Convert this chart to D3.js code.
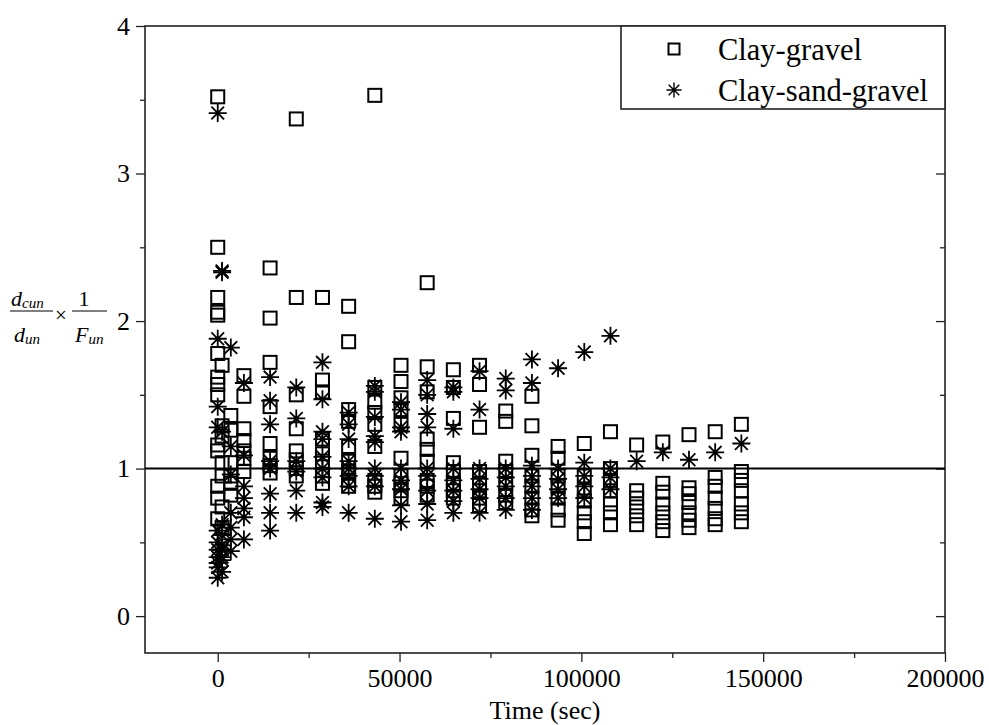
<!DOCTYPE html>
<html><head><meta charset="utf-8">
<script src="https://cdn.jsdelivr.net/npm/d3@7"></script>
<style>
body{margin:0;background:#fff;}
svg{display:block;}
text{font-family:"Liberation Serif","Times New Roman",serif;fill:#000;}
</style></head>
<body>
<svg id="chart" width="989" height="725"></svg>
<script>
// ---- data ----
const times = [0,1200,3600,7200,14400,21600,28800,36000,43200,50400,57600,64800,72000,79200,86400,93600,100800,108000,115200,122400,129600,136800,144000];
const clayGravel = [
  [3.52,2.50,2.16,2.06,2.04,1.78,1.62,1.57,1.50,1.16,1.12,0.88,0.80,0.66],
  [1.70,1.29,1.22,1.04,0.95,0.74,0.60],
  [1.36,1.26,1.04,0.95,0.90,0.82],
  [1.63,1.49,1.27,1.19,1.12,1.07,0.98],
  [2.36,2.02,1.72,1.42,1.17,1.07,1.02,0.97],
  [3.37,2.16,1.50,1.27,1.12,1.06,1.00,0.95],
  [2.16,1.60,1.52,1.20,1.10,1.05,0.95,0.90],
  [2.10,1.86,1.40,1.32,1.15,1.05,0.98,0.92,0.88],
  [3.53,1.55,1.45,1.38,1.30,1.15,0.92,0.88,0.84],
  [1.70,1.59,1.48,1.40,1.30,1.07,0.95,0.90,0.85,0.80],
  [2.26,1.69,1.52,1.20,1.13,1.05,0.92,0.88,0.82],
  [1.67,1.55,1.34,1.04,0.98,0.90,0.85,0.80],
  [1.70,1.57,1.28,0.98,0.90,0.85,0.80,0.75],
  [1.39,1.32,1.05,0.98,0.90,0.82,0.77],
  [1.49,1.29,1.09,0.95,0.88,0.80,0.72,0.68],
  [1.15,1.07,0.95,0.88,0.80,0.72,0.65],
  [1.17,0.95,0.85,0.78,0.70,0.64,0.56],
  [1.25,1.00,0.92,0.85,0.76,0.70,0.62],
  [1.16,0.85,0.80,0.74,0.68,0.62],
  [1.18,0.90,0.84,0.76,0.70,0.64,0.58],
  [1.23,0.87,0.83,0.77,0.70,0.65,0.60],
  [1.25,0.94,0.88,0.80,0.73,0.66,0.62],
  [1.30,0.98,0.92,0.85,0.76,0.70,0.64]
];
const claySandGravel = [
  [3.41,1.88,1.42,1.28,0.58,0.50,0.45,0.40,0.36,0.33,0.26],
  [2.33,2.34,1.25,0.62,0.55,0.48,0.45,0.40,0.38,0.30],
  [1.82,1.15,0.96,0.70,0.60,0.52,0.44],
  [1.58,1.09,0.88,0.80,0.73,0.67,0.52],
  [1.62,1.46,1.30,1.05,1.00,0.83,0.70,0.58],
  [1.55,1.34,1.05,0.98,0.85,0.70],
  [1.72,1.47,1.25,1.20,1.08,1.00,0.94,0.77,0.74],
  [1.38,1.30,1.20,1.05,1.00,0.95,0.88,0.70],
  [1.56,1.52,1.35,1.22,1.18,1.00,0.95,0.88,0.66],
  [1.45,1.40,1.28,1.25,1.00,0.92,0.86,0.75,0.64],
  [1.60,1.50,1.37,1.28,1.00,0.95,0.85,0.76,0.65],
  [1.55,1.52,1.27,1.00,0.92,0.85,0.78,0.70],
  [1.66,1.40,1.00,0.93,0.86,0.80,0.70],
  [1.61,1.53,1.00,0.94,0.88,0.80,0.72],
  [1.74,1.58,1.02,0.95,0.88,0.80,0.72],
  [1.68,1.00,0.93,0.86,0.80],
  [1.79,1.04,0.95,0.88,0.80],
  [1.90,1.00,0.94,0.86],
  [1.05],
  [1.11],
  [1.06],
  [1.11],
  [1.17]
];
const seriesNames = ["Clay-gravel","Clay-sand-gravel"];
const xTicks = [0,50000,100000,150000,200000];
const xMinor = [25000,75000,125000,175000];
const yTicks = [0,1,2,3,4];
const yMinor = [0.5,1.5,2.5,3.5];
const xTitle = "Time (sec)";

// ---- layout ----
const svg = d3.select("#chart");
const L=145,R=945,T=26,B=653;
const x = d3.scaleLinear().domain([-20000,200000]).range([L,R]);
const y = d3.scaleLinear().domain([-0.25,4]).range([B,T]);

const flat = (arr)=>arr.flatMap((col,i)=>col.map(v=>({t:times[i],v})));
const sq = flat(clayGravel), st = flat(claySandGravel);

// axes
const axB = svg.append("g").attr("transform",`translate(0,${B})`)
  .call(d3.axisBottom(x).tickValues(xTicks).tickFormat(d3.format("d")).tickSize(9).tickPadding(4));
svg.append("g").attr("transform",`translate(0,${B})`)
  .call(d3.axisBottom(x).tickValues(xMinor).tickFormat("").tickSize(5));
const axL = svg.append("g").attr("transform",`translate(${L},0)`)
  .call(d3.axisLeft(y).tickValues(yTicks).tickFormat(d3.format("d")).tickSize(9).tickPadding(6));
svg.append("g").attr("transform",`translate(${L},0)`)
  .call(d3.axisLeft(y).tickValues(yMinor).tickFormat("").tickSize(5));
svg.append("g").attr("transform",`translate(${R},0)`)
  .call(d3.axisLeft(y).tickValues(yTicks).tickFormat("").tickSize(9));
svg.append("g").attr("transform",`translate(${R},0)`)
  .call(d3.axisLeft(y).tickValues(yMinor).tickFormat("").tickSize(5));
svg.selectAll(".domain").remove();
svg.selectAll(".tick line").attr("stroke","#222").attr("stroke-width",1.3);
svg.selectAll(".tick text").attr("font-size",26).attr("font-family","Liberation Serif").attr("fill","#000");
axB.selectAll(".tick text").attr("dy","0.8em");

// frame
svg.append("rect").attr("x",L).attr("y",T).attr("width",R-L).attr("height",B-T)
  .attr("fill","none").attr("stroke","#222").attr("stroke-width",1.6);

// reference line y=1
svg.append("line").attr("x1",L).attr("x2",R).attr("y1",y(1)).attr("y2",y(1))
  .attr("stroke","#000").attr("stroke-width",2);

// markers
const starPath = (r)=>{
  const a=r*Math.SQRT1_2;
  return `M0,${-r}L0,${r}M${-r},0L${r},0M${-a},${-a}L${a},${a}M${-a},${a}L${a},${-a}`;
};
svg.append("g").selectAll("rect").data(sq).join("rect")
  .attr("x",d=>x(d.t)-6.5).attr("y",d=>y(d.v)-6.5).attr("width",13).attr("height",13)
  .attr("fill","none").attr("stroke","#000").attr("stroke-width",2);
svg.append("g").selectAll("path").data(st).join("path")
  .attr("transform",d=>`translate(${x(d.t)},${y(d.v)})`)
  .attr("d",starPath(9)).attr("fill","none").attr("stroke","#000").attr("stroke-width",1.8);

// legend
const lg = svg.append("g");
lg.append("rect").attr("x",621).attr("y",T).attr("width",R-621).attr("height",83)
  .attr("fill","#fff").attr("stroke","#222").attr("stroke-width",1.6);
lg.append("rect").attr("x",674-5.5).attr("y",49-5.5).attr("width",11).attr("height",11)
  .attr("fill","none").attr("stroke","#000").attr("stroke-width",2);
lg.append("path").attr("transform","translate(674,90)").attr("d",starPath(7.5))
  .attr("fill","none").attr("stroke","#000").attr("stroke-width",1.4);
lg.selectAll("text.lt").data(seriesNames).join("text").attr("class","lt")
  .attr("x",718).attr("y",(d,i)=>[60,101][i]).attr("font-size",30.5).text(d=>d);

// x title
svg.append("text").attr("x",(L+R)/2).attr("y",719).attr("text-anchor","middle")
  .attr("font-size",26).text(xTitle);

// y title: d_cun/d_un × 1/F_un
const yl = svg.append("g");
yl.append("text").attr("x",11).attr("y",306).attr("font-size",22).attr("font-style","italic")
  .text("d").append("tspan").attr("font-size",15).attr("dy",2).text("cun");
yl.append("line").attr("x1",10).attr("x2",53).attr("y1",311).attr("y2",311).attr("stroke","#000").attr("stroke-width",1.2);
yl.append("text").attr("x",14).attr("y",342).attr("font-size",22).attr("font-style","italic")
  .text("d").append("tspan").attr("font-size",15).attr("dy",2).text("un");
yl.append("text").attr("x",55).attr("y",322).attr("font-size",21).text("×");
yl.append("text").attr("x",84).attr("y",306).attr("font-size",22).attr("text-anchor","middle").text("1");
yl.append("line").attr("x1",72).attr("x2",107).attr("y1",311).attr("y2",311).attr("stroke","#000").attr("stroke-width",1.2);
yl.append("text").attr("x",75).attr("y",342).attr("font-size",22).attr("font-style","italic")
  .text("F").append("tspan").attr("font-size",15).attr("dy",2).text("un");
</script>
</body></html>
